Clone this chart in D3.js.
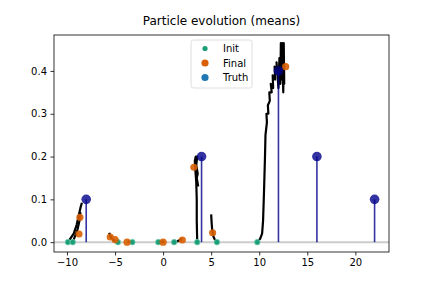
<!DOCTYPE html>
<html>
<head>
<meta charset="utf-8">
<script src="https://cdn.jsdelivr.net/npm/d3@7"></script>
<style>
  body { margin: 0; background: #fff; }
  text { font-family: "DejaVu Sans", sans-serif; }
</style>
</head>
<body>
<svg id="chart" width="432" height="288"></svg>
<script>
  //============================================================
  // Data
  //------------------------------------------------------------

  var truthX = [-8, 4, 12, 16, 22],
    truthW = [0.1, 0.2, 0.4, 0.2, 0.1];

  var initX = [-9.9, -9.4, -4.7, -3.2, -0.5, 1.15, 3.55, 5.6, 9.8],
    initY = [0, 0, 0, 0, 0, 0, 0, 0, 0];

  var finalX = [-8.75, -8.65, -5.5, -5.0, -3.75, 0.0, 2.0, 3.2, 5.15, 12.75],
    finalY = [0.019, 0.058, 0.012, 0.006, 0.0, 0.0, 0.005, 0.175, 0.022, 0.41];

  // mean trajectories, one list of [x, y] per particle group
  var trajA1 = [[-9.9, 0], [-9.6, 0.01], [-9.3, 0.02], [-9.0, 0.04], [-8.8, 0.06], [-8.6, 0.08], [-8.45, 0.092]],
    trajA2 = [[-9.4, 0], [-9.2, 0.012], [-8.9, 0.03], [-8.7, 0.05], [-8.6, 0.07]],
    trajB = [[-5.6, 0.022], [-5.5, 0.014], [-5.3, 0.008], [-5.1, 0.004], [-4.8, 0.002], [-4.6, 0]],
    trajB2 = [[-3.7, 0.001], [-3.3, 0.001]],
    trajO = [[-0.4, 0.001], [0.1, 0.001]],
    trajO2 = [[1.15, 0], [1.5, 0.002], [1.8, 0.006], [2.0, 0.007]],
    trajC = [[3.55, 0], [3.5, 0.05], [3.5, 0.1], [3.45, 0.14], [3.35, 0.17], [3.3, 0.19], [3.4, 0.2], [3.55, 0.2],
      [3.45, 0.18], [3.6, 0.16], [3.5, 0.15], [3.65, 0.13]],
    trajC2 = [[5.0, 0.065], [5.05, 0.045], [5.1, 0.03], [5.25, 0.012], [5.45, 0.003], [5.6, 0]],
    trajD = [[9.8, 0], [10.1, 0.008], [10.3, 0.02], [10.4, 0.05], [10.5, 0.12], [10.6, 0.2], [10.65, 0.25],
      [10.8, 0.28], [10.75, 0.3], [10.95, 0.3], [10.9, 0.32], [11.1, 0.33], [11.05, 0.35], [11.3, 0.35],
      [11.2, 0.37], [11.45, 0.36], [11.4, 0.39], [11.65, 0.38], [11.6, 0.41], [11.85, 0.4], [11.8, 0.42],
      [12.0, 0.36], [12.1, 0.43], [12.2, 0.37], [12.25, 0.465], [12.35, 0.38], [12.4, 0.465], [12.5, 0.35],
      [12.55, 0.465], [12.6, 0.37], [12.55, 0.44]];

  var trajectories = [trajA1, trajA2, trajB, trajB2, trajO, trajO2, trajC, trajC2, trajD];

  var xTicks = [-10, -5, 0, 5, 10, 15, 20],
    yTicks = [0, 0.1, 0.2, 0.3, 0.4];

  //============================================================
  // Setup
  //------------------------------------------------------------

  var margin = { top: 35, right: 43, bottom: 36, left: 54 },
    width = 432 - margin.left - margin.right,
    height = 288 - margin.top - margin.bottom;

  var svg = d3.select('#chart');

  var x = d3.scaleLinear().domain([-11.35, 23.5]).range([margin.left, margin.left + width]);
  var y = d3.scaleLinear().domain([-0.023, 0.484]).range([margin.top + height, margin.top]);

  var minus = function(v) { return String(v).replace('-', '\u2212'); };

  svg.append('clipPath').attr('id', 'clip')
    .append('rect')
    .attr('x', margin.left).attr('y', margin.top)
    .attr('width', width).attr('height', height);

  var plot = svg.append('g').attr('clip-path', 'url(#clip)');

  // baseline at zero
  plot.append('line')
    .attr('x1', margin.left).attr('x2', margin.left + width)
    .attr('y1', y(0)).attr('y2', y(0))
    .style('stroke', '#cccccc')
    .style('stroke-width', 2);

  //------------------------------------------------------------
  // trajectories

  var line = d3.line().x(function(d) { return x(d[0]) }).y(function(d) { return y(d[1]) });

  plot.selectAll('.traj').data(trajectories).enter().append('path')
    .attr('class', 'traj')
    .attr('d', line)
    .style('fill', 'none')
    .style('stroke', '#000')
    .style('stroke-width', 2.2)
    .style('stroke-linejoin', 'round');

  plot.selectAll('.init').data(initX).enter().append('circle')
    .attr('class', 'init')
    .attr('cx', function(d) { return x(d) })
    .attr('cy', function(d, i) { return y(initY[i]) })
    .attr('r', 2.8)
    .style('fill', '#1b9e77')
    .style('stroke', '#7fd0b5')
    .style('stroke-width', 0.8);

  plot.selectAll('.final').data(finalX).enter().append('circle')
    .attr('class', 'final')
    .attr('cx', function(d) { return x(d) })
    .attr('cy', function(d, i) { return y(finalY[i]) })
    .attr('r', 3.6)
    .style('fill', '#d95f02')
    .style('opacity', 0.9);

  //------------------------------------------------------------
  // truth stems

  var stems = plot.selectAll('.stem').data(truthX).enter().append('g').attr('class', 'stem');

  stems.append('line')
    .attr('x1', function(d) { return x(d) })
    .attr('x2', function(d) { return x(d) })
    .attr('y1', y(0))
    .attr('y2', function(d, i) { return y(truthW[i]) })
    .style('stroke', '#00008b')
    .style('stroke-opacity', 0.8)
    .style('stroke-width', 1.6);

  stems.append('circle')
    .attr('cx', function(d) { return x(d) })
    .attr('cy', function(d, i) { return y(truthW[i]) })
    .attr('r', 4.8)
    .style('fill', '#00008b')
    .style('opacity', 0.8);

  //============================================================
  // Axes
  //------------------------------------------------------------

  var xAxis = svg.append('g')
    .attr('transform', 'translate(0,' + (margin.top + height) + ')')
    .call(d3.axisBottom(x).tickValues(xTicks).tickSize(3.5).tickPadding(3.5).tickFormat(minus));

  var yAxis = svg.append('g')
    .attr('transform', 'translate(' + margin.left + ',0)')
    .call(d3.axisLeft(y).tickValues(yTicks).tickSize(3.5).tickPadding(3.5).tickFormat(d3.format('.1f')));

  [xAxis, yAxis].forEach(function(a) {
    a.select('.domain').remove();
    a.selectAll('text').style('font-size', '10px').style('fill', '#000');
    a.selectAll('line').style('stroke', '#000').style('stroke-width', 0.8);
  });

  svg.append('rect')
    .attr('x', margin.left).attr('y', margin.top)
    .attr('width', width).attr('height', height)
    .style('fill', 'none')
    .style('stroke', '#000')
    .style('stroke-width', 0.8);

  svg.append('text')
    .attr('x', margin.left + width / 2)
    .attr('y', margin.top - 10)
    .attr('text-anchor', 'middle')
    .style('font-size', '12px')
    .text('Particle evolution (means)');

  //============================================================
  // Legend
  //------------------------------------------------------------

  var legendItems = [
    { label: 'Init', color: '#1b9e77', r: 2.6 },
    { label: 'Final', color: '#d95f02', r: 3.6 },
    { label: 'Truth', color: '#1f77b4', r: 3.6 }
  ];

  var legend = svg.append('g').attr('transform', 'translate(191,40)');

  legend.append('rect')
    .attr('width', 61).attr('height', 48)
    .attr('rx', 2.5)
    .style('fill', '#fff')
    .style('fill-opacity', 0.8)
    .style('stroke', '#d6d6d6')
    .style('stroke-width', 0.8);

  var rows = legend.selectAll('.row').data(legendItems).enter().append('g')
    .attr('transform', function(d, i) { return 'translate(0,' + (8.5 + i * 14.5) + ')' });

  rows.append('circle')
    .attr('cx', 14).attr('r', function(d) { return d.r })
    .style('fill', function(d) { return d.color });

  rows.append('text')
    .attr('x', 32).attr('dy', '0.35em')
    .style('font-size', '10px')
    .text(function(d) { return d.label });
</script>
</body>
</html>
